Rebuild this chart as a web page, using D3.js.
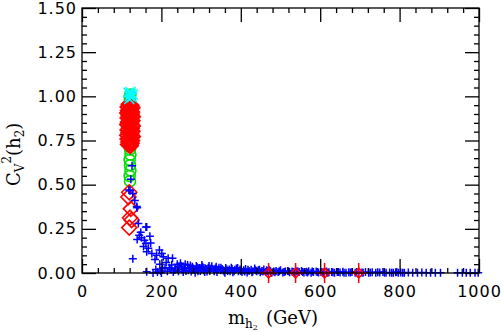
<!DOCTYPE html>
<html>
<head>
<meta charset="utf-8">
<script src="https://cdn.jsdelivr.net/npm/d3@7"></script>
<style>
  body { margin: 0; background: #fff; }
  text { fill: #000; }
</style>
</head>
<body>
<div id="chart"></div>
<script>
// scan points: [m_h2 (GeV), C_V^2(h2)]
const bluePoints = [
  [126,0.607],[123,0.53],[118,0.47],[121,0.466],[133,0.41],[138,0.376],[139,0.37],[128,0.45],
  [161,0.26],[163,0.26],[144,0.213],[171,0.208],[139,0.19],[161,0.167],[173,0.17],[163,0.12],
  [195,0.13],[201,0.11],[128,0.08],[184,0.077],[205,0.092],[217,0.083],[228,0.083],[196,0.05],
  [226,0.045],[163,0.007],[179,0.0],[209,0.03],[234,0.017],[150,0.2],[155,0.15],[188,0.1],
  [212,0.06],[240,0.05],[245,0.035],[250,0.04],[252,0.02],[258,0.03],[262,0.012],[266,0.045],
  [270,0.025],[275,0.008],[278,0.035],[283,0.018],[288,0.04],[292,0.01],[296,0.028],[300,0.02],
  [304,0.035],[309,0.005],[313,0.022],[318,0.03],[322,0.012],[327,0.038],[331,0.018],[336,0.025],
  [340,0.006],[345,0.03],[349,0.015],[353,0.022],[358,0.008],[362,0.028],[367,0.012],[371,0.02],
  [376,0.03],[380,0.004],[385,0.018],[389,0.025],[394,0.01],[398,0.02],[403,0.006],[407,0.015],
  [412,0.022],[416,0.003],[421,0.012],[426,0.018],[430,0.008],[435,0.025],[440,0.01],[444,0.015],
  [449,0.004],[453,0.012],[458,0.02],[463,0.006],[467,0.01],[472,0.015],[478,0.002],[483,0.008],
  [489,0.012],[494,0.005],[500,0.015],[506,0.003],[512,0.009],[518,0.012],[523,0.004],[529,0.008],
  [535,0.002],[541,0.01],[547,0.005],[553,0.012],[559,0.003],[565,0.007],[571,0.01],[577,0.002],
  [583,0.006],[590,0.009],[596,0.003],[602,0.006],[609,0.002],[616,0.008],[622,0.004],[629,0.006],
  [636,0.002],[643,0.005],[650,0.003],[657,0.007],[665,0.002],[672,0.004],[680,0.006],[688,0.002],
  [697,0.004],[705,0.003],[714,0.005],[722,0.001],[731,0.004],[740,0.002],[750,0.003],[758,0.005],
  [766,0.001],[775,0.003],[784,0.002],[790,0.004],[797,0.001],[803,0.003],[812,0.002],[822,0.003],
  [833,0.001],[845,0.002],[856,0.003],[867,0.001],[878,0.002],[890,0.001],[903,0.002],[946,0.001],
  [958,0.002],[968,0.001],[978,0.002],[990,0.001],[998,0.001],
  [243,0.01],[248,0.055],[255,0.005],[260,0.05],[268,0.015],[273,0.042],[280,0.025],[285,0.002],
  [290,0.032],[298,0.012],[302,0.045],[306,0.015],[315,0.008],[320,0.04],[325,0.025],[333,0.01],
  [338,0.035],[343,0.02],[350,0.03],[356,0.015],[360,0.002],[365,0.02],[373,0.01],[378,0.022],
  [383,0.01],[392,0.028],[400,0.012],[410,0.008],[418,0.018],[428,0.004],[437,0.015],[447,0.018],
  [456,0.008],[465,0.015],[475,0.01],[486,0.004],[497,0.01],[509,0.006],[520,0.01],[532,0.006],
  [544,0.008],[556,0.005],[568,0.003],[580,0.008],[593,0.005],[605,0.004],[619,0.002],[632,0.004],
  [646,0.006],[660,0.002],[676,0.003],[692,0.005],[708,0.001],[726,0.003],[745,0.004],[762,0.002],
  [780,0.001],[793,0.005],[808,0.001],
  [186,0.02],[190,0.005],[198,0.012],[203,0.025],[215,0.01],[220,0.03],[230,0.005],[236,0.028],
  [224,0.02],[200,0.0],[148,0.23],[157,0.185],[167,0.14],[176,0.11],[142,0.28]
];
const greenPoints = [
  [121,0.52],[120,0.55],[122,0.58],[121,0.61],[120,0.64],[122,0.67],[121,0.70],[121,0.73],
  [122,0.96],[121,0.98],[120,1.0],[122,1.01]
];
const redBand = [
  [119,0.955],[123,0.95],[116,0.94],[126,0.935],[121,0.928],[117,0.92],[125,0.912],[115,0.905],
  [124,0.9],[119,0.892],[127,0.885],[116,0.878],[122,0.87],[126,0.862],[117,0.855],[123,0.848],
  [115,0.84],[127,0.832],[120,0.825],[124,0.818],[116,0.81],[126,0.802],[118,0.795],[123,0.788],
  [115,0.78],[127,0.772],[121,0.765],[116,0.758],[125,0.75],[118,0.742],[124,0.735],[117,0.728],
  [122,0.72]
];
const redLow = [[119,0.457],[117,0.43],[123,0.363],[121,0.313],[125,0.3],[119,0.257]];
const cyanPoints = [[117,1.02],[120,1.0],[123,1.015],[126,0.995],[119,0.985],[122,1.025],[128,1.01]];
const redHeavy = [[470,0],[538,0],[611,0],[697,0]];

const xMajor = [0, 200, 400, 600, 800, 1000];
const yMajor = [0, 0.25, 0.5, 0.75, 1.0, 1.25, 1.5];

const width = 501, height = 332;
const margin = { top: 8, right: 22, bottom: 59, left: 82 };

const svg = d3.select("#chart").append("svg")
  .attr("width", width).attr("height", height);

const x = d3.scaleLinear().domain([0, 1000]).range([margin.left, width - margin.right]);
const y = d3.scaleLinear().domain([0, 1.5]).range([height - margin.bottom, margin.top]);

const xMinor = d3.range(0, 1001, 40).filter(v => v % 200 !== 0);
const yMinor = d3.range(0, 31).map(i => i * 0.05).filter((v, i) => i % 5 !== 0);

// markers
const plot = svg.append("g");

plot.append("g").selectAll("circle").data(greenPoints).join("circle")
  .attr("cx", d => x(d[0])).attr("cy", d => y(d[1])).attr("r", 5.5)
  .attr("fill", "none").attr("stroke", "#00dd00").attr("stroke-width", 1.6);

const diamond = s => `M0,${-s}L${s},0L0,${s}L${-s},0Z`;

plot.append("g").selectAll("path").data(redBand).join("path")
  .attr("transform", d => `translate(${x(d[0])},${y(d[1])})`)
  .attr("d", diamond(7.5))
  .attr("fill", "none").attr("stroke", "#ff0000").attr("stroke-width", 2.2);

plot.append("g").selectAll("path").data(redLow).join("path")
  .attr("transform", d => `translate(${x(d[0])},${y(d[1])})`)
  .attr("d", diamond(7.5))
  .attr("fill", "none").attr("stroke", "#ff0000").attr("stroke-width", 1.6);

plot.append("g").selectAll("path").data(bluePoints).join("path")
  .attr("transform", d => `translate(${x(d[0])},${y(d[1])})`)
  .attr("d", "M-4,0H4M0,-4V4")
  .attr("stroke", "#0000ff").attr("stroke-width", 1.5);

plot.append("g").selectAll("path").data(cyanPoints).join("path")
  .attr("transform", d => `translate(${x(d[0])},${y(d[1])})`)
  .attr("d", "M-5,-5L5,5M-5,5L5,-5")
  .attr("stroke", "#00ffff").attr("stroke-width", 1.5);

const heavy = plot.append("g").selectAll("g").data(redHeavy).join("g")
  .attr("transform", d => `translate(${x(d[0])},${y(d[1])})`)
  .attr("stroke", "#ff0000").attr("stroke-width", 1.5).attr("fill", "none");
heavy.append("path").attr("d", "M0,-10V10M-8,0H8");
heavy.append("path").attr("d", diamond(5));

// axes, ticks inward on all four sides
const axisStyle = g => {
  g.select(".domain").remove();
  g.selectAll(".tick line").attr("stroke", "#000").attr("stroke-width", 1.3);
};
const tickFont = g => g.selectAll("text")
  .attr("font-family", "DejaVu Sans").attr("font-size", 16)
  .attr("letter-spacing", "1px").attr("fill", "#000");

const b = y(0), t = y(1.5), l = x(0), r = x(1000);

svg.append("g").attr("transform", `translate(0,${b})`)
  .call(d3.axisBottom(x).tickValues(xMajor).tickSize(-14).tickPadding(13).tickFormat(d3.format("d")))
  .call(axisStyle).call(tickFont);
svg.append("g").attr("transform", `translate(0,${b})`)
  .call(d3.axisBottom(x).tickValues(xMinor).tickSize(-5).tickFormat(""))
  .call(axisStyle);
svg.append("g").attr("transform", `translate(0,${t})`)
  .call(d3.axisTop(x).tickValues(xMajor).tickSize(-14).tickFormat(""))
  .call(axisStyle);
svg.append("g").attr("transform", `translate(0,${t})`)
  .call(d3.axisTop(x).tickValues(xMinor).tickSize(-5).tickFormat(""))
  .call(axisStyle);

svg.append("g").attr("transform", `translate(${l},0)`)
  .call(d3.axisLeft(y).tickValues(yMajor).tickSize(-14).tickPadding(5).tickFormat(d3.format(".2f")))
  .call(axisStyle).call(tickFont);
svg.append("g").attr("transform", `translate(${l},0)`)
  .call(d3.axisLeft(y).tickValues(yMinor).tickSize(-5).tickFormat(""))
  .call(axisStyle);
svg.append("g").attr("transform", `translate(${r},0)`)
  .call(d3.axisRight(y).tickValues(yMajor).tickSize(-14).tickFormat(""))
  .call(axisStyle);
svg.append("g").attr("transform", `translate(${r},0)`)
  .call(d3.axisRight(y).tickValues(yMinor).tickSize(-5).tickFormat(""))
  .call(axisStyle);

svg.append("rect")
  .attr("x", l).attr("y", t).attr("width", r - l).attr("height", b - t)
  .attr("fill", "none").attr("stroke", "#000").attr("stroke-width", 1.3);

// axis titles
const xt = svg.append("text")
  .attr("x", 228).attr("y", 324)
  .attr("font-family", "DejaVu Serif").attr("font-size", 18);
xt.append("tspan").text("m");
xt.append("tspan").attr("font-size", 12).attr("dy", 4).text("h");
xt.append("tspan").attr("font-size", 8).attr("dy", 2).text("2");
xt.append("tspan").attr("dy", -6).attr("dx", 8).text("(GeV)");

const yt = svg.append("text")
  .attr("transform", "translate(20,186) rotate(-90)")
  .attr("font-family", "DejaVu Serif").attr("font-size", 18);
yt.append("tspan").text("C");
yt.append("tspan").attr("font-size", 12).attr("dy", 4).text("V");
yt.append("tspan").attr("font-size", 12).attr("dy", -13).text("2");
yt.append("tspan").attr("dy", 9).text("(h");
yt.append("tspan").attr("font-size", 12).attr("dy", 4).text("2");
yt.append("tspan").attr("dy", -4).text(")");
</script>
</body>
</html>
